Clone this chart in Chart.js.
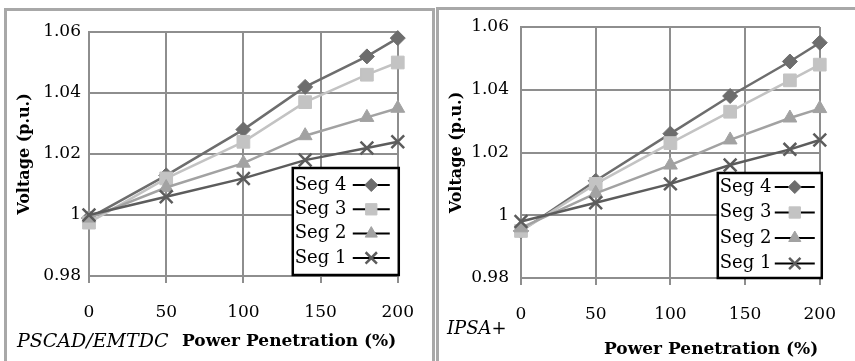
<!DOCTYPE html>
<html>
<head>
<meta charset="utf-8">
<script src="https://cdn.jsdelivr.net/npm/chart.js@4.4.0/dist/chart.umd.min.js"></script>
<style>
  body { margin: 0; background: #fff; width: 855px; height: 361px; overflow: hidden; position: relative; font-family: "DejaVu Serif", serif; }
  .painel { position: absolute; border: 3px solid #a8a8a8; box-sizing: border-box; }
  canvas { position: absolute; top: 0; }
  .rotulo { position: absolute; white-space: nowrap; line-height: 20px; color: #000; }
</style>
</head>
<body>
<div class="painel" style="left:4px;top:8px;width:431px;height:380px"></div>
<div class="painel" style="left:436px;top:7px;width:430px;height:380px"></div>
<canvas id="graficoPscad" width="433" height="361" style="left:0"></canvas>
<canvas id="graficoIpsa" width="418" height="361" style="left:437px"></canvas>
<div class="rotulo" style="left:17px;top:330px;font-size:19px;font-style:italic">PSCAD/EMTDC</div>
<div class="rotulo" style="left:182px;top:330px;font-size:17px;font-weight:bold">Power Penetration (%)</div>
<div class="rotulo" style="left:447px;top:318px;font-size:18px;font-style:italic">IPSA+</div>
<div class="rotulo" style="left:604px;top:338px;font-size:17px;font-weight:bold">Power Penetration (%)</div>
<script>
// ===== DADOS =====
const penetracao = [0, 50, 100, 140, 180, 200];
const xTicks = [0, 50, 100, 150, 200];
const yTicks = [0.98, 1, 1.02, 1.04, 1.06];
const segLabels = ['Seg 1', 'Seg 2', 'Seg 3', 'Seg 4'];

// PSCAD/EMTDC
const pscadSeg1 = [1.000, 1.006, 1.012, 1.018, 1.022, 1.024];
const pscadSeg2 = [0.999, 1.009, 1.017, 1.026, 1.032, 1.035];
const pscadSeg3 = [0.9975, 1.012, 1.024, 1.037, 1.046, 1.050];
const pscadSeg4 = [0.999, 1.013, 1.028, 1.042, 1.052, 1.058];

// IPSA+
const ipsaSeg1 = [0.998, 1.004, 1.010, 1.016, 1.021, 1.024];
const ipsaSeg2 = [0.996, 1.007, 1.016, 1.024, 1.031, 1.034];
const ipsaSeg3 = [0.995, 1.010, 1.023, 1.033, 1.043, 1.048];
const ipsaSeg4 = [0.995, 1.011, 1.026, 1.038, 1.049, 1.055];

// ===== ESTILO =====
const coresSeg = ['#5c5c5c', '#a2a2a2', '#c3c3c3', '#6d6d6d'];
const marcadores = ['crossRot', 'triangle', 'rect', 'rectRot'];
const raios = [9, 8, 9, 7.5];
const corGrade = '#8e8e8e';
const fonte = '"DejaVu Serif", serif';

// ===== LEGENDA COM CAIXA =====
const legendaBox = {
    id: 'legendaBox',
    afterDatasetsDraw(chart, args, o) {
        const ctx = chart.ctx;
        const a = chart.chartArea;
        const x0 = a.right + o.dx - o.w;
        const y0 = a.bottom + o.dy - o.h;
        ctx.save();
        ctx.fillStyle = '#fff';
        ctx.fillRect(x0, y0, o.w, o.h);
        ctx.lineWidth = 2.5;
        ctx.strokeStyle = '#000';
        ctx.strokeRect(x0, y0, o.w, o.h);
        ctx.font = '18px ' + fonte;
        ctx.textBaseline = 'middle';
        chart.data.datasets.slice().reverse().forEach((d, i) => {
            const y = y0 + o.first + i * o.step;
            ctx.fillStyle = '#000';
            ctx.fillText(d.label, x0 + o.textX, y);
            ctx.beginPath();
            ctx.moveTo(x0 + o.line[0], y);
            ctx.lineTo(x0 + o.line[1], y);
            ctx.lineWidth = 2;
            ctx.strokeStyle = '#000';
            ctx.stroke();
            ctx.fillStyle = d.pointBackgroundColor;
            ctx.strokeStyle = d.pointBorderColor;
            ctx.lineWidth = d.pointBorderWidth;
            Chart.helpers.drawPoint(ctx, {
                pointStyle: d.pointStyle, radius: d.pointRadius - 1,
                borderWidth: d.pointBorderWidth, rotation: 0
            }, x0 + (o.line[0] + o.line[1]) / 2, y);
        });
        ctx.restore();
    }
};

// ===== GRAFICO =====
function criarGrafico(id, series, cfg) {
    const datasets = series.map((s, i) => ({
        label: segLabels[i],
        data: penetracao.map((x, j) => ({ x: x, y: s[j] })),
        borderColor: coresSeg[i],
        backgroundColor: coresSeg[i],
        borderWidth: 2.5,
        pointStyle: marcadores[i],
        pointRadius: raios[i],
        pointBackgroundColor: coresSeg[i],
        pointBorderColor: coresSeg[i],
        pointBorderWidth: i === 0 ? 2.5 : 1,
        showLine: true,
        clip: false
    }));

    new Chart(document.getElementById(id).getContext('2d'), {
        type: 'scatter',
        data: { datasets },
        plugins: [legendaBox],
        options: {
            responsive: false,
            animation: false,
            devicePixelRatio: 1,
            layout: { padding: { left: 0, top: cfg.top, right: cfg.right, bottom: 0 } },
            plugins: {
                legend: { display: false },
                tooltip: { enabled: false },
                legendaBox: cfg.legenda
            },
            scales: {
                x: {
                    type: 'linear', min: 0, max: 200,
                    afterBuildTicks: s => { s.ticks = xTicks.map(v => ({ value: v })); },
                    afterFit: s => { s.height = cfg.xHeight; },
                    grid: { color: corGrade, lineWidth: 2, tickLength: 7, drawTicks: true },
                    border: { color: corGrade, width: 2 },
                    ticks: { padding: 19, color: '#000', font: { family: fonte, size: 17 }, callback: v => String(v) }
                },
                y: {
                    type: 'linear', min: 0.98, max: 1.06,
                    afterBuildTicks: s => { s.ticks = yTicks.map(v => ({ value: v })); },
                    afterFit: s => { s.width = cfg.yWidth; },
                    grid: { color: corGrade, lineWidth: 2, drawTicks: false },
                    border: { color: corGrade, width: 2 },
                    ticks: { padding: cfg.yPad, color: '#000', font: { family: fonte, size: 17 }, callback: v => String(+v.toFixed(2)) },
                    title: {
                        display: true, text: 'Voltage (p.u.)', color: '#000',
                        font: { family: fonte, size: 16, weight: 'bold' },
                        padding: { top: cfg.titlePad, bottom: 0 }
                    }
                }
            }
        }
    });
}

criarGrafico('graficoPscad', [pscadSeg1, pscadSeg2, pscadSeg3, pscadSeg4], {
    top: 32, right: 30, xHeight: 85, yWidth: 89, yPad: 8, titlePad: 15,
    legenda: { dx: 1, dy: -1, w: 106, h: 107, first: 17, step: 24.3, textX: 2, line: [60, 97] }
});

criarGrafico('graficoIpsa', [ipsaSeg1, ipsaSeg2, ipsaSeg3, ipsaSeg4], {
    top: 27, right: 20, xHeight: 83, yWidth: 84, yPad: 12, titlePad: 10,
    legenda: { dx: 2, dy: 0, w: 104, h: 105, first: 14, step: 25.5, textX: 2, line: [57, 97] }
});
</script>
</body>
</html>
